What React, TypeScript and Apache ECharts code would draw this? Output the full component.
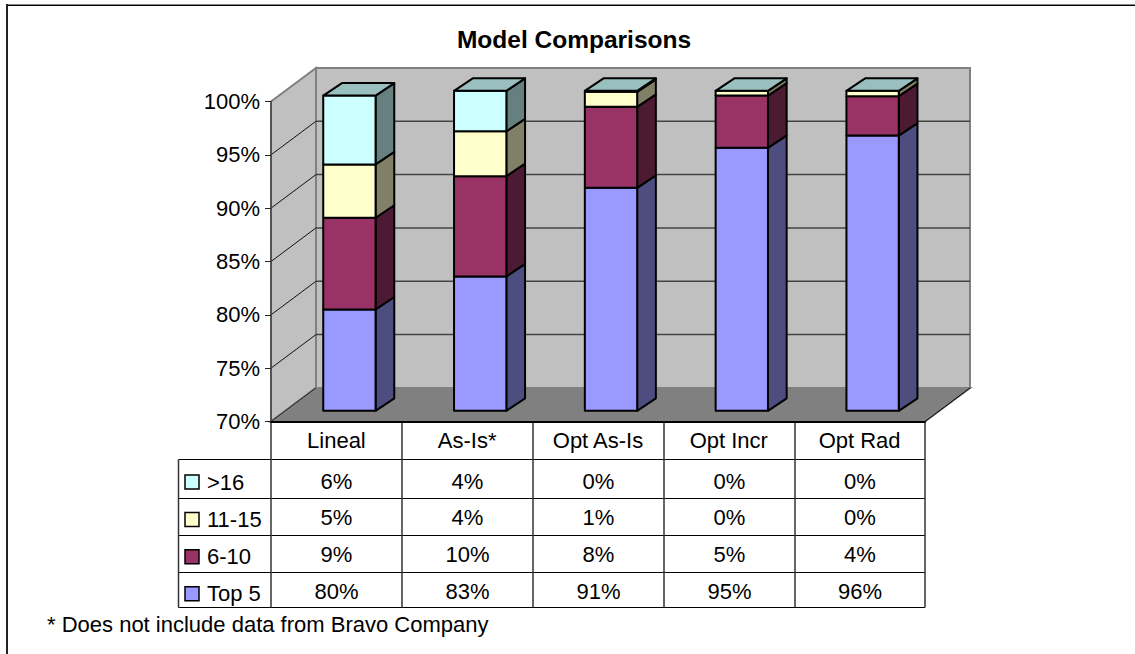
import React, { useEffect, useRef } from "react";
import * as echarts from "echarts";

const categories = ["Lineal", "As-Is*", "Opt As-Is", "Opt Incr", "Opt Rad"];
const seriesNames = ["Top 5", "6-10", "11-15", ">16"];
const top5 = [79.5, 82.6, 90.9, 94.65, 95.8];
const six10 = [8.6, 9.4, 7.6, 4.9, 3.7];
const eleven15 = [5.0, 4.2, 1.4, 0.45, 0.5];
const over16 = [6.45, 3.8, 0.1, 0, 0];
const tableTop5 = ["80%", "83%", "91%", "95%", "96%"];
const table610 = ["9%", "10%", "8%", "5%", "4%"];
const table1115 = ["5%", "4%", "1%", "0%", "0%"];
const tableOver16 = ["6%", "4%", "0%", "0%", "0%"];
const yTicks = [70, 75, 80, 85, 90, 95, 100];
const title = "Model Comparisons";
const footnote = "* Does not include data from Bravo Company";

const FONT = "'Liberation Sans', Arial, sans-serif";
const faceColors = ["#9999FF", "#993366", "#FFFFCC", "#CCFFFF"];
const sideColors = ["#4D4D80", "#4D1A33", "#808066", "#668080"];
const topColors = ["#7373BF", "#73264D", "#BFBF99", "#99BFBF"];

// 3-D projection offsets (px)
const WALL_DX = 45;
const WALL_DY = -33.6;
const BAR_DX = 13;
const BAR_DY = -10.7;
const DEPTH_DX = 18.7;
const DEPTH_DY = -12.5;

const GRID = { left: 271, right: 925, top: 101.5, bottom: 421.5 };
const TABLE_LEFT = 178.5;
const ROWS = [459.5, 498.5, 535.5, 572.5, 607.5];
const COLS = [271, 402, 533, 664, 795, 925];
const CELL_Y = [481, 517.5, 554, 591];
const LEGEND_Y = [482, 519.5, 556.7, 593.7];

function App() {
  const ref = useRef<HTMLDivElement>(null);
  useEffect(() => {
    if (!ref.current) return;
    const chart = echarts.init(ref.current, undefined, { renderer: "svg" });
    const stackSeries = [top5, six10, eleven15, over16];
    const labelRows = [tableOver16, table1115, table610, tableTop5];
    const stroke = { stroke: "#000", lineWidth: 2, lineJoin: "round" };

    const makeSeries = (values: number[], si: number) => {
      const base = values.map((_, i) => {
        let s = 0;
        for (let k = 0; k < si; k++) s += stackSeries[k][i];
        return s;
      });
      return {
        type: "custom",
        name: seriesNames[si],
        coordinateSystem: "cartesian2d",
        z: 5 + si,
        silent: true,
        encode: { x: 0, y: 2 },
        data: values.map((v, i) => [i, base[i], base[i] + v]),
        renderItem: (_p: any, api: any) => {
          const c = api.value(0);
          const lo = Math.max(api.value(1), 70);
          const hi = api.value(2);
          const band = api.size([1, 0])[0];
          const w = band * 0.4;
          const [cx, y1] = api.coord([c, lo]);
          const [, y2] = api.coord([c, hi]);
          const x0 = cx + BAR_DX - w / 2;
          const x1 = x0 + w;
          const b = y1 + BAR_DY;
          const t = y2 + BAR_DY;
          const children: any[] = [];
          if (hi - lo > 0.001) {
            children.push({
              type: "polygon",
              shape: { points: [[x1, b], [x1 + DEPTH_DX, b + DEPTH_DY], [x1 + DEPTH_DX, t + DEPTH_DY], [x1, t]] },
              style: { fill: sideColors[si], ...stroke },
            });
            children.push({
              type: "polygon",
              shape: { points: [[x0, b], [x1, b], [x1, t], [x0, t]] },
              style: { fill: faceColors[si], ...stroke },
            });
          }
          if (si === stackSeries.length - 1) {
            children.push({
              type: "polygon",
              shape: { points: [[x0, t], [x1, t], [x1 + DEPTH_DX, t + DEPTH_DY], [x0 + DEPTH_DX, t + DEPTH_DY]] },
              style: { fill: topColors[si], ...stroke },
            });
          }
          return { type: "group", children };
        },
      };
    };

    const frameSeries = {
      type: "custom",
      coordinateSystem: "cartesian2d",
      z: 1,
      silent: true,
      encode: { x: 0, y: 1 },
      data: [[0, 70]],
      renderItem: (_p: any, api: any) => {
        const band = api.size([1, 0])[0];
        const [cx, yB] = api.coord([0, 70]);
        const [, yT] = api.coord([0, 100]);
        const xL = cx - band / 2;
        const xR = xL + band * categories.length;
        const d = { x: WALL_DX, y: WALL_DY };
        const grey = { stroke: "#808080", lineWidth: 2 };
        const children: any[] = [
          {
            type: "polygon",
            shape: { points: [[xL + d.x, yB + d.y], [xR + d.x, yB + d.y], [xR + d.x, yT + d.y], [xL + d.x, yT + d.y]] },
            style: { fill: "#C0C0C0", ...grey },
          },
          {
            type: "polygon",
            shape: { points: [[xL, yB], [xL + d.x, yB + d.y], [xL + d.x, yT + d.y], [xL, yT]] },
            style: { fill: "#C0C0C0", ...grey },
          },
          {
            type: "polygon",
            shape: { points: [[xL, yB], [xR, yB], [xR + d.x, yB + d.y], [xL + d.x, yB + d.y]] },
            style: { fill: "#808080", ...grey },
          },
        ];
        yTicks.slice(1, -1).forEach((t) => {
          const [, y] = api.coord([0, t]);
          children.push({
            type: "line",
            shape: { x1: xL, y1: y, x2: xL + d.x, y2: y + d.y },
            style: { stroke: "#111", lineWidth: 1 },
          });
          children.push({
            type: "line",
            shape: { x1: xL + d.x, y1: y + d.y, x2: xR + d.x, y2: y + d.y },
            style: { stroke: "#444", lineWidth: 1.5 },
          });
        });
        children.push({
          type: "line",
          shape: { x1: xL, y1: yB, x2: xL + d.x, y2: yB + d.y },
          style: { stroke: "#222", lineWidth: 1 },
        });
        children.push({
          type: "line",
          shape: { x1: xR, y1: yB, x2: xR + d.x, y2: yB + d.y },
          style: { stroke: "#000", lineWidth: 1 },
        });
        return { type: "group", children };
      },
    };

    const graphics: any[] = [];
    const line = (x1: number, y1: number, x2: number, y2: number, color = "#000", width = 1) =>
      graphics.push({ type: "line", silent: true, shape: { x1, y1, x2, y2 }, style: { stroke: color, lineWidth: width } });
    // outer frame: top and left edges only reach the picture
    line(6, 4.5, 1135, 4.5, "#888", 1);
    line(6, 5.5, 1135, 5.5, "#000", 1);
    line(7, 4, 7, 654, "#222", 2);
    // table horizontals
    ROWS.forEach((y) => line(TABLE_LEFT, y, GRID.right, y));
    // table verticals
    COLS.forEach((x) => line(x, GRID.bottom, x, ROWS[ROWS.length - 1], "#333", 1.5));
    line(TABLE_LEFT, ROWS[0], TABLE_LEFT, ROWS[ROWS.length - 1], "#333", 1.5);
    // table cells + legend keys
    const legendOrder = [3, 2, 1, 0];
    legendOrder.forEach((si, r) => {
      graphics.push({
        type: "rect",
        silent: true,
        shape: { x: 185, y: LEGEND_Y[r] - 7, width: 14, height: 14 },
        style: { fill: faceColors[si], stroke: "#000", lineWidth: 1.5 },
      });
      graphics.push({
        type: "text",
        silent: true,
        x: 207,
        y: LEGEND_Y[r],
        style: { text: seriesNames[si], font: `22px ${FONT}`, fill: "#000", align: "left", verticalAlign: "middle" },
      });
      labelRows[r].forEach((txt, c) => {
        graphics.push({
          type: "text",
          silent: true,
          x: (COLS[c] + COLS[c + 1]) / 2,
          y: CELL_Y[r],
          style: { text: txt, font: `22px ${FONT}`, fill: "#000", align: "center", verticalAlign: "middle" },
        });
      });
    });
    graphics.push({
      type: "text",
      silent: true,
      x: 47,
      y: 624,
      style: { text: footnote, font: `22px ${FONT}`, fill: "#000", align: "left", verticalAlign: "middle" },
    });

    chart.setOption({
      animation: false,
      backgroundColor: "#fff",
      title: {
        text: title,
        left: 569,
        top: 22,
        textAlign: "center",
        textStyle: { fontFamily: FONT, fontSize: 24.5, fontWeight: "bold", color: "#000" },
      },
      grid: {
        left: GRID.left,
        top: GRID.top,
        width: GRID.right - GRID.left,
        height: GRID.bottom - GRID.top,
      },
      xAxis: {
        type: "category",
        data: categories,
        axisLine: { show: true, lineStyle: { color: "#000", width: 2 } },
        axisTick: { show: false },
        axisLabel: { fontFamily: FONT, fontSize: 22, color: "#000", margin: 8, interval: 0 },
        z: 4,
      },
      yAxis: {
        type: "value",
        min: 70,
        max: 100,
        interval: 5,
        axisLine: { show: true, lineStyle: { color: "#444", width: 1.5 } },
        axisTick: { show: true, length: 6, inside: false, lineStyle: { color: "#222", width: 1 } },
        axisLabel: { fontFamily: FONT, fontSize: 22, color: "#000", margin: 11, formatter: "{value}%" },
        splitLine: { show: false },
        z: 4,
      },
      graphic: { elements: graphics },
      series: [frameSeries, ...stackSeries.map(makeSeries)],
    });
    return () => chart.dispose();
  }, []);
  return <div ref={ref} style={{ position: "fixed", left: 0, top: 0, width: 1135, height: 654 }} />;
}

export default App;
